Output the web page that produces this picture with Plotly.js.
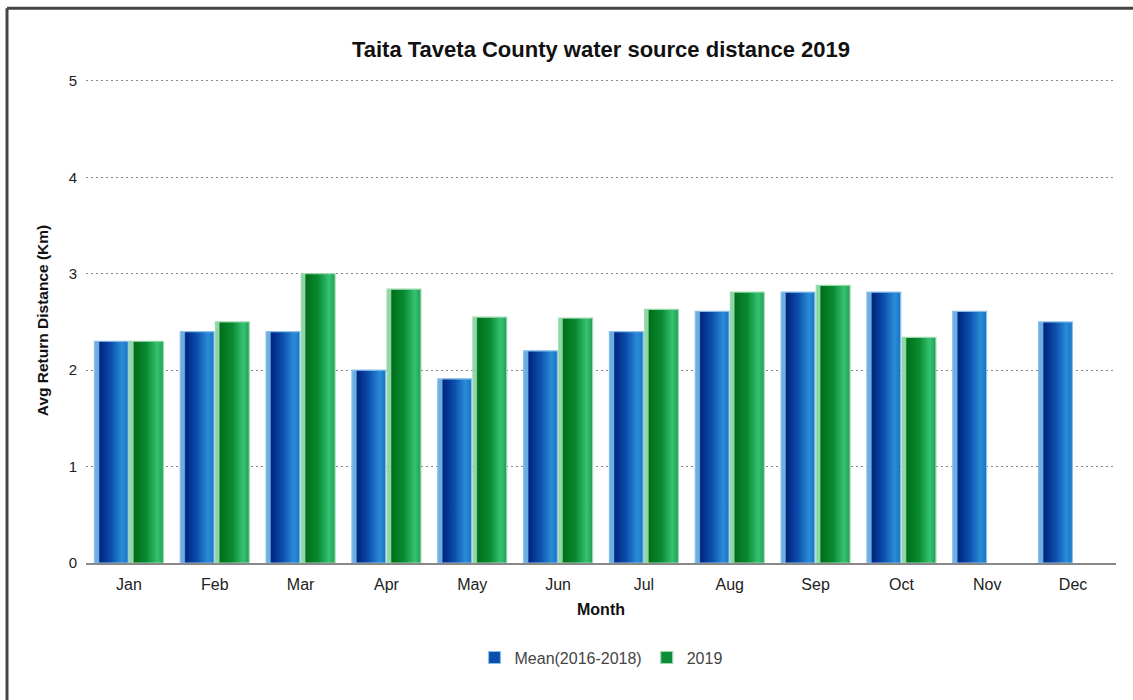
<!DOCTYPE html>
<html>
<head>
<meta charset="utf-8">
<script src="https://cdn.plot.ly/plotly-3.0.1.min.js"></script>
<style>
html,body{margin:0;padding:0;background:#fff;}
#chart{width:1133px;height:700px;}
</style>
</head>
<body>
<div id="chart"></div>
<script>
const months = ["Jan","Feb","Mar","Apr","May","Jun","Jul","Aug","Sep","Oct","Nov","Dec"];
const meanValues = [2.3, 2.4, 2.4, 2.0, 1.91, 2.2, 2.4, 2.61, 2.81, 2.81, 2.61, 2.5];
const values2019 = [2.3, 2.5, 3.0, 2.84, 2.55, 2.54, 2.63, 2.81, 2.88, 2.34, null, null];
const seriesNames = ["Mean(2016-2018)", "2019"];

const traces = [
  {
    type: "bar", name: seriesNames[0], x: months, y: meanValues,
    marker: {color: "#0b4fae", line: {color: "#8cc0ea", width: 1.2}},
    hoverinfo: "x+y+name"
  },
  {
    type: "bar", name: seriesNames[1], x: months, y: values2019,
    marker: {color: "#0f8c37", line: {color: "#9ad9ae", width: 1.2}},
    hoverinfo: "x+y+name"
  }
];

const layout = {
  width: 1133, height: 700,
  paper_bgcolor: "#ffffff", plot_bgcolor: "#ffffff",
  margin: {l: 86, r: 17, t: 78, b: 137},
  font: {family: "Liberation Sans, Arial, sans-serif", size: 15, color: "#222"},
  title: {
    text: "<b>Taita Taveta County water source distance 2019</b>",
    font: {size: 22, color: "#111"},
    x: 0.5, xref: "paper", xanchor: "center",
    y: 0.93, yref: "container", yanchor: "middle"
  },
  barmode: "group", bargap: 0.18, bargroupgap: 0.04,
  xaxis: {
    showgrid: false, showline: true, linecolor: "#888", linewidth: 1.5,
    ticks: "", tickfont: {size: 16, color: "#222"}, ticklabelstandoff: 6,
    title: {text: "<b>Month</b>", font: {size: 16, color: "#111"}, standoff: 12}
  },
  yaxis: {
    range: [0, 5.03], tickvals: [0, 1, 2, 3, 4, 5], showgrid: true, gridcolor: "#888", griddash: "2px,3px", gridwidth: 1,
    zeroline: false, showline: false, ticks: "", tickfont: {size: 15, color: "#222"},
    ticklabelstandoff: 8,
    title: {text: "<b>Avg Return Distance (Km)</b>", font: {size: 15.5, color: "#111"}, standoff: 16}
  },
  legend: {
    orientation: "h", x: 0.5, xanchor: "center", y: -0.195, yanchor: "middle",
    font: {size: 16, color: "#444"}, itemwidth: 30
  },
  shapes: [
    {type: "line", xref: "paper", yref: "paper", x0: -0.0767, x1: -0.0767, y0: -0.3, y1: 1.144,
     line: {color: "#444", width: 3}},
    {type: "line", xref: "paper", yref: "paper", x0: -0.0767, x1: 1.05, y0: 1.144, y1: 1.144,
     line: {color: "#444", width: 3}}
  ],
  showlegend: true
};

Plotly.newPlot("chart", traces, layout, {displayModeBar: false, staticPlot: true}).then(function(gd){
  const svg = gd.querySelector(".main-svg");
  const ns = "http://www.w3.org/2000/svg";
  let defs = svg.querySelector("defs");
  if (!defs) { defs = document.createElementNS(ns, "defs"); svg.insertBefore(defs, svg.firstChild); }
  function grad(id, stops) {
    const g = document.createElementNS(ns, "linearGradient");
    g.setAttribute("id", id);
    g.setAttribute("x1", "0"); g.setAttribute("x2", "1"); g.setAttribute("y1", "0"); g.setAttribute("y2", "0");
    stops.forEach(function(s){
      const st = document.createElementNS(ns, "stop");
      st.setAttribute("offset", s[0]); st.setAttribute("stop-color", s[1]);
      g.appendChild(st);
    });
    defs.appendChild(g);
  }
  grad("gBlue", [["0","#6aaee2"],["0.12","#6aaee2"],["0.16","#00247f"],["0.5","#0c4fae"],["0.82","#2a8cd6"],["0.92","#1f7fd0"],["1","#1a6fc0"]]);
  grad("gGreen", [["0","#8fd6a6"],["0.1","#8fd6a6"],["0.14","#006f1a"],["0.5","#0a8a30"],["0.82","#36c272"],["0.92","#2ab062"],["1","#1f9a50"]]);
  const traceGroups = gd.querySelectorAll(".barlayer .trace");
  traceGroups.forEach(function(tg, i){
    tg.querySelectorAll("path").forEach(function(p){
      p.style.fill = i === 0 ? "url(#gBlue)" : "url(#gGreen)";
    });
  });
});
</script>
</body>
</html>
